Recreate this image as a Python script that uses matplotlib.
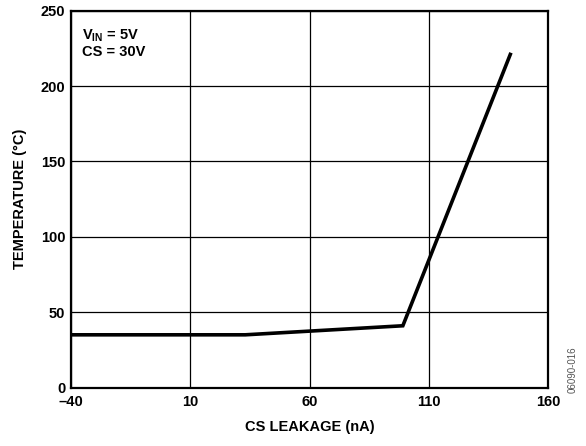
import matplotlib
matplotlib.use("Agg")
import matplotlib.pyplot as plt

plt.rcParams['font.family'] = ['Liberation Sans', 'DejaVu Sans']
plt.rcParams['font.weight'] = 'bold'
plt.rcParams['mathtext.fontset'] = 'custom'
plt.rcParams['mathtext.bf'] = 'Liberation Sans:bold'
plt.rcParams['mathtext.rm'] = 'Liberation Sans:bold'

leakage = [-40, 33, 99, 144]
temperature = [35, 35, 41, 221]

xticks = [-40, 10, 60, 110, 160]
xtick_labels = ["\u201340", "10", "60", "110", "160"]
yticks = [0, 50, 100, 150, 200, 250]

fig = plt.figure(figsize=(5.86, 4.46), dpi=100)
ax = fig.add_axes([0.121, 0.131, 0.815, 0.845])

ax.plot(leakage, temperature, color="black", linewidth=2.6, solid_joinstyle="miter")

ax.set_xlim(-40, 160)
ax.set_ylim(0, 250)
ax.set_xticks(xticks)
ax.set_xticklabels(xtick_labels)
ax.set_yticks(yticks)
ax.grid(True, color="black", linewidth=0.9)
ax.tick_params(length=0, labelsize=10.5)
ax.tick_params(axis="x", pad=5)
ax.tick_params(axis="y", pad=4)
for lab in ax.get_xticklabels() + ax.get_yticklabels():
    lab.set_fontweight("bold")
for s in ax.spines.values():
    s.set_linewidth(1.6)

ax.set_xlabel("CS LEAKAGE (nA)", fontsize=10.5, fontweight="bold", labelpad=8)
ax.set_ylabel("TEMPERATURE (\u00b0C)", fontsize=10.5, fontweight="bold", labelpad=10)

ax.text(0.024, 0.955, r"V$_{\mathrm{IN}}$ = 5V" + "\nCS = 30V", transform=ax.transAxes,
        fontsize=10.5, fontweight="bold", va="top", ha="left", linespacing=1.05)

fig.text(0.977, 0.17, "06090-016", rotation=90, fontsize=7, color="#555555",
         fontweight="normal", ha="center", va="center")

fig.savefig("out.png", dpi=100)
